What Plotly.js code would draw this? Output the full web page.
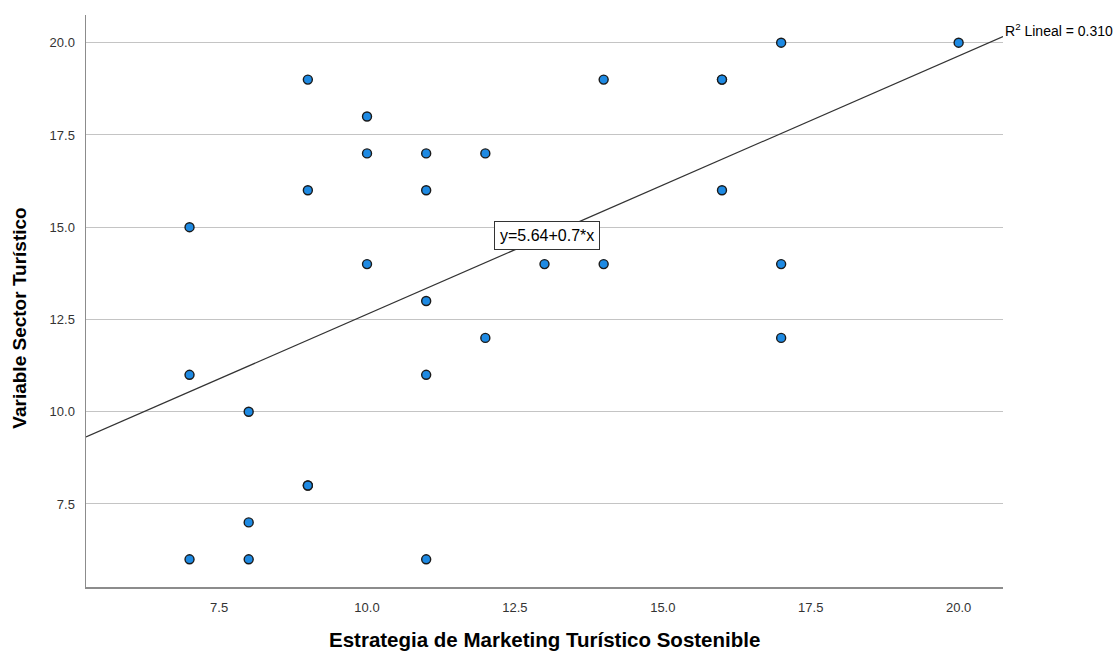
<!DOCTYPE html>
<html>
<head>
<meta charset="utf-8">
<script src="https://cdn.plot.ly/plotly-3.0.1.min.js"></script>
<style>html,body{margin:0;padding:0;background:#fff;}#chart{width:1117px;height:652px;}</style>
</head>
<body>
<div id="chart"></div>
<script>
// Data
const estrategia = [7, 7, 7, 8, 8, 8, 9, 9, 9, 9, 10, 10, 10, 11, 11, 11, 11, 11, 12, 12, 13, 14, 14, 16, 16, 16, 17, 17, 17, 20];
const sector     = [15, 11, 6, 10, 7, 6, 19, 16, 8, 8, 18, 17, 14, 17, 16, 13, 11, 6, 17, 12, 14, 19, 14, 19, 19, 16, 20, 14, 12, 20];
const fitIntercept = [5.64];
const fitSlope = [0.7];
const r2Label = ["R<sup>2</sup> Lineal = 0.310"];
const eqLabel = ["y=5.64+0.7*x"];
const eqLabelX = [13.05];
const xTicks = [7.5, 10.0, 12.5, 15.0, 17.5, 20.0];
const yTicks = [7.5, 10.0, 12.5, 15.0, 17.5, 20.0];
const xTitle = "Estrategia de Marketing Turístico Sostenible";
const yTitle = "Variable Sector Turístico";

const xRange = [5.25, 20.75];
const yRange = [5.25, 20.75];
const lineX = [xRange[0], xRange[1]];
const lineY = lineX.map(v => fitIntercept[0] + fitSlope[0] * v);

const font = "Liberation Sans, Arial, sans-serif";

const traces = [
  {
    x: lineX, y: lineY, type: 'scatter', mode: 'lines',
    line: {color: '#333333', width: 1.2}, hoverinfo: 'skip'
  },
  {
    x: estrategia, y: sector, type: 'scatter', mode: 'markers',
    marker: {size: 9, color: '#1e8ae3', line: {color: '#1a1a1a', width: 1.4}}
  }
];

const layout = {
  width: 1117, height: 652,
  margin: {l: 86, r: 114, t: 15, b: 65},
  paper_bgcolor: '#ffffff', plot_bgcolor: '#ffffff',
  showlegend: false,
  font: {family: font, size: 13, color: '#333333'},
  xaxis: {
    range: xRange, tickvals: xTicks, ticktext: xTicks.map(v => v.toFixed(1)),
    showgrid: false, zeroline: false, showline: true, linecolor: '#8c8c8c', linewidth: 1.5,
    ticks: '', ticklen: 0, ticklabelstandoff: 8,
    tickfont: {family: font, size: 13, color: '#333333'}
  },
  yaxis: {
    range: yRange, tickvals: yTicks, ticktext: yTicks.map(v => v.toFixed(1)),
    showgrid: true, gridcolor: '#c4c4c4', gridwidth: 1,
    zeroline: false, showline: true, linecolor: '#8c8c8c', linewidth: 1.5,
    ticks: '', ticklen: 0, ticklabelstandoff: 7,
    tickfont: {family: font, size: 13, color: '#333333'}
  },
  annotations: [
    {
      xref: 'paper', yref: 'paper', x: 0.5, y: -0.091, xanchor: 'center', yanchor: 'middle',
      text: '<b>' + xTitle + '</b>', showarrow: false,
      font: {family: font, size: 20.5, color: '#000000'}
    },
    {
      xref: 'paper', yref: 'paper', x: -0.0725, y: 0.47, xanchor: 'center', yanchor: 'middle',
      text: '<b>' + yTitle + '</b>', textangle: -90, showarrow: false,
      font: {family: font, size: 19, color: '#000000'}
    },
    {
      xref: 'x', yref: 'y', x: xRange[1], y: lineY[1], xanchor: 'left', yanchor: 'bottom',
      xshift: 0, yshift: -4,
      text: r2Label[0], showarrow: false,
      font: {family: font, size: 14, color: '#000000'}
    },
    {
      xref: 'x', yref: 'y', x: eqLabelX[0], y: fitIntercept[0] + fitSlope[0] * eqLabelX[0],
      xanchor: 'center', yanchor: 'middle',
      text: eqLabel[0], showarrow: false, bgcolor: '#ffffff',
      bordercolor: '#333333', borderwidth: 1, borderpad: 5,
      font: {family: font, size: 16, color: '#000000'}
    }
  ]
};

Plotly.newPlot('chart', traces, layout, {displayModeBar: false, staticPlot: true});
</script>
</body>
</html>
